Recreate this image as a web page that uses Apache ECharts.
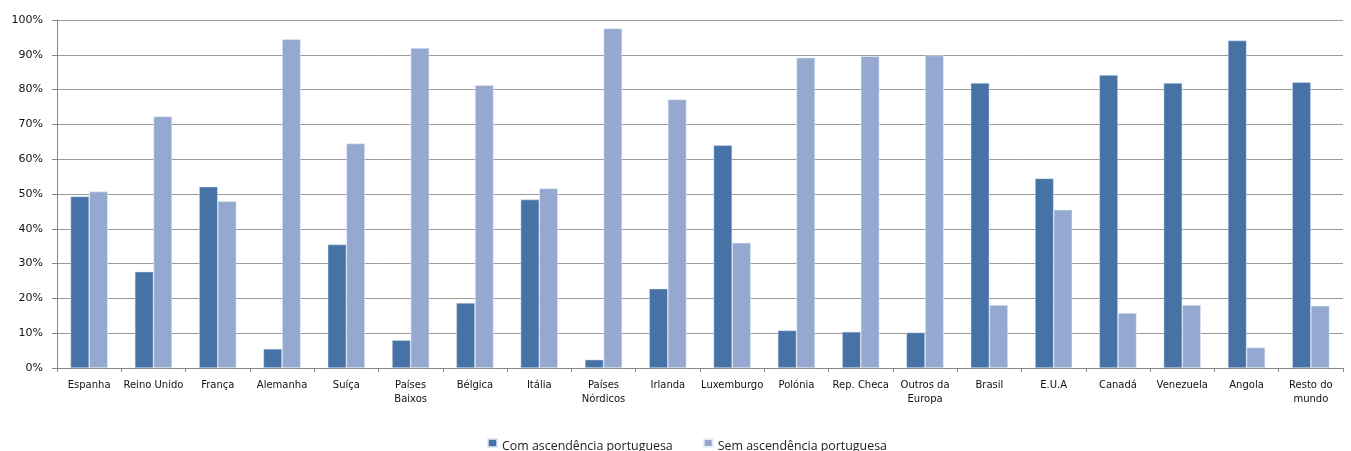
<!DOCTYPE html>
<html>
<head>
<meta charset="utf-8">
<script src="https://cdn.jsdelivr.net/npm/echarts@6/dist/echarts.min.js"></script>
<style>
  html, body { margin: 0; padding: 0; background: #fff; }
  #chart { width: 1351px; height: 451px; }
</style>
</head>
<body>
<div id="chart"></div>
<script>
// Países / regiões
const categories = [
  'Espanha', 'Reino Unido', 'França', 'Alemanha', 'Suíça', 'Países\nBaixos',
  'Bélgica', 'Itália', 'Países\nNórdicos', 'Irlanda', 'Luxemburgo', 'Polónia',
  'Rep. Checa', 'Outros da\nEuropa', 'Brasil', 'E.U.A', 'Canadá', 'Venezuela',
  'Angola', 'Resto do\nmundo'
];

// Percentagens por país
const comAscendencia = [
  49.3, 27.7, 52.1, 5.5, 35.5, 8.0, 18.7, 48.4, 2.4, 22.8,
  64.0, 10.8, 10.4, 10.2, 81.9, 54.5, 84.2, 81.9, 94.1, 82.1
];
const semAscendencia = [
  50.7, 72.3, 47.9, 94.5, 64.5, 92.0, 81.3, 51.6, 97.6, 77.2,
  36.0, 89.2, 89.6, 89.8, 18.1, 45.5, 15.8, 18.1, 5.9, 17.9
];

const seriesNames = ['Com ascendência portuguesa', 'Sem ascendência portuguesa'];
const yTicks = [0, 10, 20, 30, 40, 50, 60, 70, 80, 90, 100];

const font = 'DejaVu Sans, Verdana, sans-serif';
const legendFont = 'Open Sans, Noto Sans, sans-serif';
const chart = echarts.init(document.getElementById('chart'), null, { renderer: 'canvas' });

chart.setOption({
  animation: false,
  backgroundColor: '#ffffff',
  grid: { left: 57, right: 8, top: 20, bottom: 83, containLabel: false },
  legend: {
    data: seriesNames,
    left: 487,
    top: 438,
    padding: 0,
    itemWidth: 9,
    itemHeight: 8,
    itemGap: 30,
    icon: 'rect',
    formatter: name => '{t|' + name + '}',
    textStyle: {
      fontFamily: legendFont,
      fontSize: 12.4,
      color: '#222',
      rich: {
        t: { fontFamily: legendFont, fontSize: 12.4, color: '#222', padding: [7, 0, 0, 0] }
      }
    }
  },
  xAxis: {
    type: 'category',
    data: categories,
    boundaryGap: true,
    axisLine: { lineStyle: { color: '#868686', width: 1 } },
    axisTick: { show: true, length: 4, lineStyle: { color: '#868686' } },
    axisLabel: {
      interval: 0,
      margin: 10,
      fontFamily: font,
      fontSize: 10,
      color: '#111',
      lineHeight: 14
    }
  },
  yAxis: {
    type: 'value',
    min: 0,
    max: 100,
    interval: 10,
    axisLine: { show: true, lineStyle: { color: '#868686', width: 1 } },
    axisTick: { show: true, length: 5, inside: false, lineStyle: { color: '#868686' } },
    splitLine: { show: true, lineStyle: { color: '#9a9a9a', width: 1 } },
    axisLabel: {
      margin: 14,
      fontFamily: font,
      fontSize: 11,
      color: '#111',
      formatter: v => (yTicks.includes(v) ? v + '%' : '')
    }
  },
  series: [
    {
      name: seriesNames[0],
      type: 'bar',
      data: comAscendencia,
      barGap: '0%',
      barCategoryGap: '42%',
      itemStyle: { color: '#4672a6', borderColor: 'rgba(220,230,245,0.8)', borderWidth: 0.6 }
    },
    {
      name: seriesNames[1],
      type: 'bar',
      data: semAscendencia,
      barGap: '0%',
      barCategoryGap: '42%',
      itemStyle: { color: '#95a9d0', borderColor: 'rgba(235,240,250,0.9)', borderWidth: 0.6 }
    }
  ]
});
</script>
</body>
</html>
